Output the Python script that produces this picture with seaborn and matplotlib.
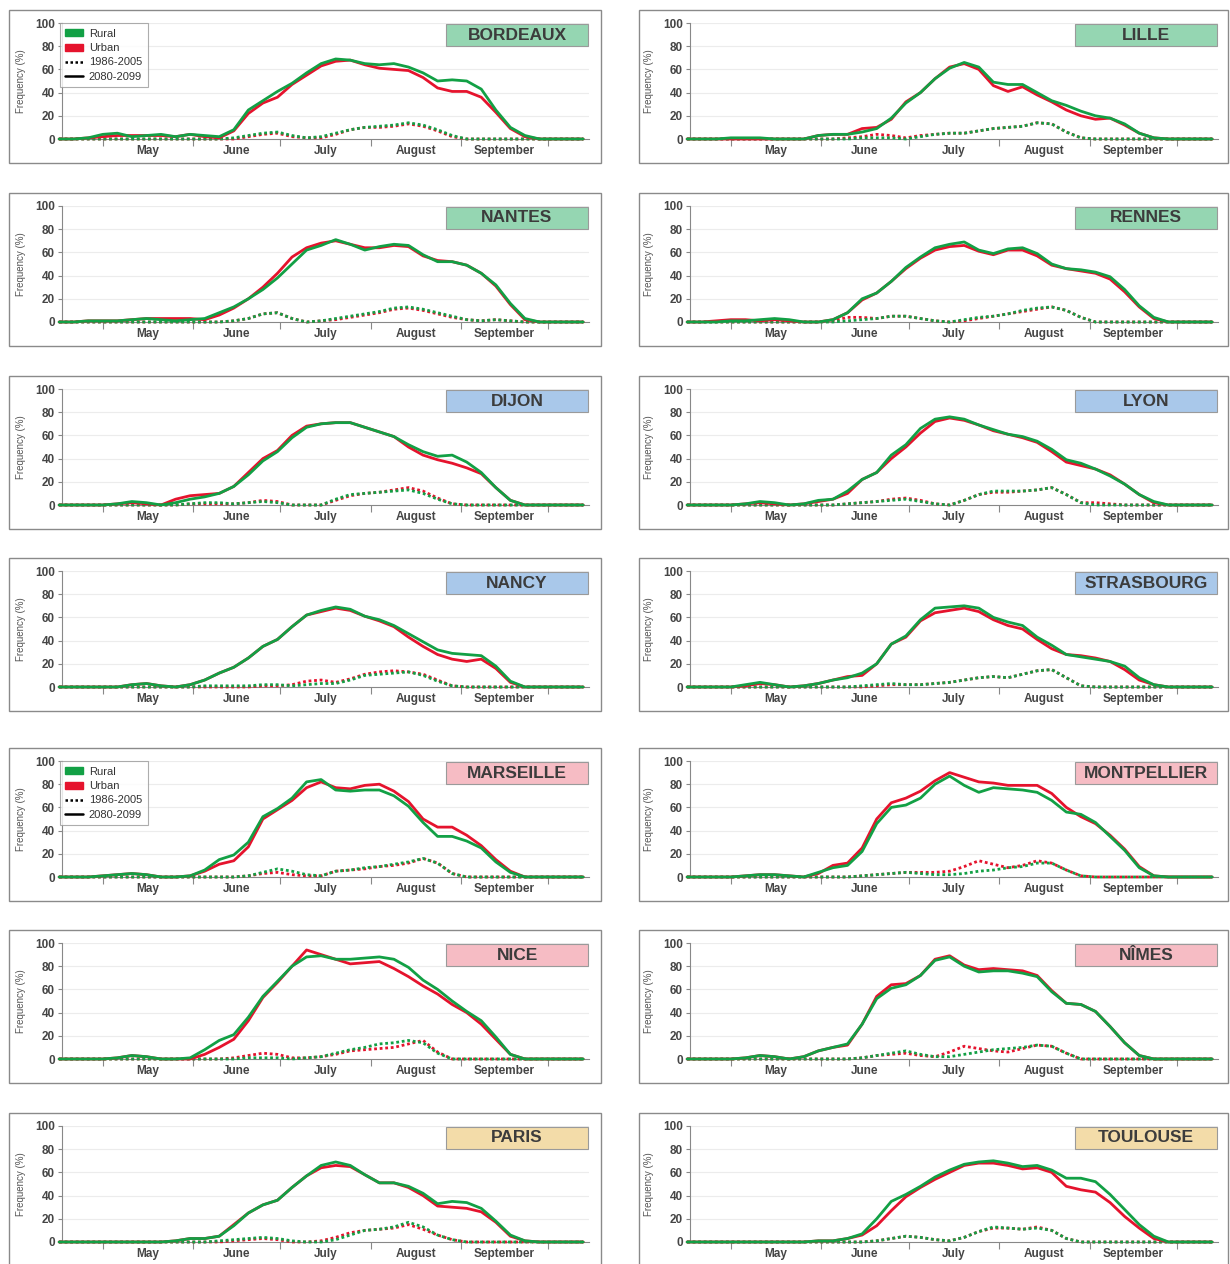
import matplotlib
matplotlib.use("Agg")
import matplotlib.pyplot as plt
import seaborn as sns
from matplotlib.patches import Rectangle, Patch
from matplotlib.lines import Line2D

# ---------------- data (day of year sampled every 5 days) ----------------
DAYS = list(range(106, 287, 5))
MONTH_STARTS = [121, 152, 182, 213, 244, 274]
MONTH_LABELS = ["May", "June", "July", "August", "September"]
YTICKS = [0, 20, 40, 60, 80, 100]
AREAS = ["Rural", "Urban"]
PERIODS = ["1986-2005", "2080-2099"]

BORDEAUX_RURAL_FUT = [0,0,1,4,5,2,3,4,2,4, 3,2,8,25,33,41,48,57,65,69, 68,65,64,65,62,57,50,51,50,43, 25,10,3,0,0,0,0]
BORDEAUX_URBAN_FUT = [0,0,1,2,3,3,3,3,2,4, 2,1,7,22,31,36,47,55,63,67, 68,64,61,60,59,53,44,41,41,36, 23,9,2,0,0,0,0]
BORDEAUX_RURAL_PAST = [0,0,0,0,0,0,0,0,0,0, 0,0,1,3,5,6,3,1,2,5, 8,10,11,12,14,12,8,3,0,0, 0,0,0,0,0,0,0]
BORDEAUX_URBAN_PAST = [0,0,0,0,0,0,0,0,0,0, 0,0,0,2,4,5,2,1,1,4, 8,10,10,11,13,11,7,2,0,0, 0,0,0,0,0,0,0]

LILLE_RURAL_FUT = [0,0,0,1,1,1,0,0,0,3, 4,4,6,9,18,31,40,52,61,66, 62,49,47,47,40,33,29,24,20,18, 13,5,1,0,0,0,0]
LILLE_URBAN_FUT = [0,0,0,0,0,0,0,0,0,3, 4,4,9,10,17,32,40,52,62,65, 60,46,41,45,38,32,25,20,17,18, 12,5,1,0,0,0,0]
LILLE_RURAL_PAST = [0,0,0,0,0,0,0,0,0,0, 0,0,1,1,1,0,2,4,5,5, 7,9,10,11,14,13,6,1,0,0, 0,0,0,0,0,0,0]
LILLE_URBAN_PAST = [0,0,0,0,0,0,0,0,0,0, 0,1,2,4,3,1,3,4,5,5, 7,9,10,11,14,13,6,1,0,0, 0,0,0,0,0,0,0]

NANTES_RURAL_FUT = [0,0,1,1,1,2,3,2,1,2, 3,8,13,20,28,38,50,62,66,71, 67,62,65,67,66,58,52,52,49,42, 32,16,3,0,0,0,0]
NANTES_URBAN_FUT = [0,0,1,1,1,2,3,3,3,3, 2,6,12,20,30,42,56,64,68,70, 67,64,64,66,65,57,53,52,49,42, 31,15,2,0,0,0,0]
NANTES_RURAL_PAST = [0,0,0,0,0,0,0,0,0,0, 0,0,1,3,7,8,3,0,1,3, 5,7,9,12,13,11,8,5,2,1, 2,1,0,0,0,0,0]
NANTES_URBAN_PAST = [0,0,0,0,0,0,0,0,0,0, 0,0,1,3,7,8,3,0,1,2, 4,6,8,11,12,10,7,4,2,1, 2,1,0,0,0,0,0]

RENNES_RURAL_FUT = [0,0,0,1,1,2,3,2,0,0, 2,8,20,25,35,47,56,64,67,69, 62,59,63,64,59,50,46,45,43,39, 28,14,4,0,0,0,0]
RENNES_URBAN_FUT = [0,0,1,2,2,1,2,1,0,0, 2,8,19,25,35,46,55,62,65,66, 61,58,62,62,57,49,46,44,42,37, 26,13,3,0,0,0,0]
RENNES_RURAL_PAST = [0,0,0,0,0,0,0,0,0,0, 0,1,2,3,5,5,3,1,0,2, 4,5,7,10,12,13,10,4,0,0, 0,0,0,0,0,0,0]
RENNES_URBAN_PAST = [0,0,0,0,0,0,0,0,0,0, 1,4,4,3,5,5,3,1,0,1, 3,5,7,9,11,13,10,4,0,0, 0,0,0,0,0,0,0]

DIJON_RURAL_FUT = [0,0,0,0,1,3,2,0,2,5, 7,10,16,26,38,46,58,67,70,71, 71,67,63,59,52,46,42,43,37,28, 15,4,0,0,0,0,0]
DIJON_URBAN_FUT = [0,0,0,0,1,2,1,0,5,8, 9,10,16,28,40,47,60,68,70,71, 71,67,63,59,50,43,39,36,32,27, 15,4,0,0,0,0,0]
DIJON_RURAL_PAST = [0,0,0,0,0,0,0,0,0,1, 2,2,1,2,3,2,0,0,0,5, 9,10,11,12,13,10,5,1,0,0, 0,0,0,0,0,0,0]
DIJON_URBAN_PAST = [0,0,0,0,0,0,0,0,0,1, 1,1,1,2,4,3,0,0,0,4, 8,10,11,13,15,12,6,1,0,0, 0,0,0,0,0,0,0]

LYON_RURAL_FUT = [0,0,0,0,1,3,2,0,1,4, 5,12,22,28,43,52,66,74,76,74, 69,65,61,59,55,48,39,36,31,25, 18,9,3,0,0,0,0]
LYON_URBAN_FUT = [0,0,0,0,1,2,1,0,1,3, 5,10,22,28,40,50,62,72,75,73, 69,64,61,58,54,46,37,34,31,26, 18,9,2,0,0,0,0]
LYON_RURAL_PAST = [0,0,0,0,0,0,0,0,0,0, 0,1,2,3,4,5,3,1,0,4, 9,12,12,12,13,15,9,2,0,0, 0,0,0,0,0,0,0]
LYON_URBAN_PAST = [0,0,0,0,0,0,0,0,0,0, 0,1,2,3,5,6,4,1,0,4, 9,11,11,12,13,15,9,2,2,1, 0,0,0,0,0,0,0]

NANCY_RURAL_FUT = [0,0,0,0,0,2,3,1,0,2, 6,12,17,25,35,41,52,62,66,69, 67,61,58,53,46,39,32,29,28,27, 18,5,0,0,0,0,0]
NANCY_URBAN_FUT = [0,0,0,0,0,2,3,1,0,2, 6,12,17,25,35,41,52,62,65,68, 66,61,57,52,43,35,28,24,22,24, 16,4,0,0,0,0,0]
NANCY_RURAL_PAST = [0,0,0,0,0,0,0,0,0,0, 1,1,1,1,2,2,1,2,3,3, 6,10,11,12,13,10,5,1,0,0, 0,0,0,0,0,0,0]
NANCY_URBAN_PAST = [0,0,0,0,0,0,0,0,0,0, 0,0,0,0,1,1,2,5,6,4, 7,11,13,14,13,11,6,1,0,0, 0,0,0,0,0,0,0]

STRASBOURG_RURAL_FUT = [0,0,0,0,2,4,2,0,1,3, 6,8,12,20,37,44,58,68,69,70, 68,60,56,53,43,36,28,26,24,22, 18,8,2,0,0,0,0]
STRASBOURG_URBAN_FUT = [0,0,0,0,1,3,2,0,1,3, 6,9,10,20,37,43,57,64,66,68, 65,58,53,50,41,33,28,27,25,22, 15,6,2,0,0,0,0]
STRASBOURG_RURAL_PAST = [0,0,0,0,0,0,0,0,0,0, 0,0,1,2,3,2,2,3,4,6, 8,9,8,11,14,15,8,1,0,0, 0,0,0,0,0,0,0]
STRASBOURG_URBAN_PAST = [0,0,0,0,0,0,0,0,0,0, 0,0,0,1,2,2,2,3,4,6, 8,9,8,11,14,15,8,1,0,0, 0,0,0,0,0,0,0]

MARSEILLE_RURAL_FUT = [0,0,0,1,2,3,2,0,0,1, 6,15,19,30,52,59,68,82,84,75, 74,75,75,70,61,47,35,35,31,25, 13,4,0,0,0,0,0]
MARSEILLE_URBAN_FUT = [0,0,0,1,2,3,2,0,0,1, 5,11,14,26,50,58,66,77,82,77, 76,79,80,74,65,50,43,43,36,27, 15,5,0,0,0,0,0]
MARSEILLE_RURAL_PAST = [0,0,0,0,0,0,0,0,0,0, 0,0,0,1,4,7,5,2,1,5, 6,8,9,11,13,16,12,3,0,0, 0,0,0,0,0,0,0]
MARSEILLE_URBAN_PAST = [0,0,0,0,0,0,0,0,0,0, 0,0,0,1,3,4,2,1,1,5, 6,7,9,10,12,16,12,3,0,0, 0,0,0,0,0,0,0]

MONTPELLIER_RURAL_FUT = [0,0,0,0,1,2,2,1,0,4, 8,10,22,46,60,62,68,80,87,79, 73,77,76,75,73,66,56,54,47,35, 23,8,1,0,0,0,0]
MONTPELLIER_URBAN_FUT = [0,0,0,0,1,2,2,1,0,3, 10,12,25,50,64,68,74,83,90,86, 82,81,79,79,79,72,60,52,46,36, 24,9,1,0,0,0,0]
MONTPELLIER_RURAL_PAST = [0,0,0,0,0,0,0,0,0,0, 0,0,1,2,3,4,3,2,2,3, 5,6,8,9,12,12,6,1,0,0, 0,0,0,0,0,0,0]
MONTPELLIER_URBAN_PAST = [0,0,0,0,0,0,0,0,0,0, 0,0,1,2,3,4,4,4,5,9, 14,11,8,10,14,12,6,1,0,0, 0,0,0,0,0,0,0]

NICE_RURAL_FUT = [0,0,0,0,1,3,2,0,0,1, 8,16,21,36,54,67,80,88,89,86, 86,87,88,86,79,68,60,50,41,33, 19,4,0,0,0,0,0]
NICE_URBAN_FUT = [0,0,0,0,1,3,2,0,0,0, 4,10,17,33,53,66,80,94,90,86, 82,83,84,78,71,63,56,47,40,30, 17,4,0,0,0,0,0]
NICE_RURAL_PAST = [0,0,0,0,0,0,0,0,0,0, 0,0,0,1,1,1,0,1,2,5, 8,10,13,14,16,14,5,0,0,0, 0,0,0,0,0,0,0]
NICE_URBAN_PAST = [0,0,0,0,0,0,0,0,0,0, 0,0,1,3,5,4,1,1,2,4, 7,8,9,10,13,16,6,0,0,0, 0,0,0,0,0,0,0]

NIMES_RURAL_FUT = [0,0,0,0,1,3,2,0,2,7, 10,13,30,52,61,64,72,85,88,80, 75,76,76,74,71,58,48,47,41,28, 14,3,0,0,0,0,0]
NIMES_URBAN_FUT = [0,0,0,0,1,3,2,0,2,7, 10,12,30,54,64,65,72,86,89,81, 77,78,77,76,72,59,48,47,41,28, 14,3,0,0,0,0,0]
NIMES_RURAL_PAST = [0,0,0,0,0,0,0,0,0,0, 0,0,1,3,5,7,4,2,2,4, 6,8,9,10,12,11,5,0,0,0, 0,0,0,0,0,0,0]
NIMES_URBAN_PAST = [0,0,0,0,0,0,0,0,0,0, 0,0,1,3,4,5,3,2,6,11, 9,7,6,9,12,11,5,0,0,0, 0,0,0,0,0,0,0]

PARIS_RURAL_FUT = [0,0,0,0,0,0,0,0,1,3, 3,5,14,25,32,36,47,57,66,69, 66,58,51,51,48,42,33,35,34,29, 18,6,1,0,0,0,0]
PARIS_URBAN_FUT = [0,0,0,0,0,0,0,0,1,3, 3,5,15,25,32,36,47,57,64,66, 65,58,51,51,47,40,31,30,29,26, 17,5,1,0,0,0,0]
PARIS_RURAL_PAST = [0,0,0,0,0,0,0,0,0,0, 0,1,2,3,4,3,1,0,0,2, 6,10,11,13,17,13,6,2,0,0, 0,0,0,0,0,0,0]
PARIS_URBAN_PAST = [0,0,0,0,0,0,0,0,0,0, 0,0,1,2,3,2,0,0,1,4, 8,10,11,12,15,11,6,2,0,0, 0,0,0,0,0,0,0]

TOULOUSE_RURAL_FUT = [0,0,0,0,0,0,0,0,0,1, 1,3,7,20,35,41,48,56,62,67, 69,70,68,65,66,62,55,55,52,41, 28,15,5,0,0,0,0]
TOULOUSE_URBAN_FUT = [0,0,0,0,0,0,0,0,0,1, 1,3,6,14,27,39,47,54,60,66, 68,68,66,63,64,60,48,45,43,34, 22,12,3,0,0,0,0]
TOULOUSE_RURAL_PAST = [0,0,0,0,0,0,0,0,0,0, 0,0,0,1,3,5,4,2,1,4, 9,13,12,11,12,10,3,0,0,0, 0,0,0,0,0,0,0]
TOULOUSE_URBAN_PAST = [0,0,0,0,0,0,0,0,0,0, 0,0,0,1,3,5,4,2,1,4, 9,12,12,11,13,10,3,0,0,0, 0,0,0,0,0,0,0]

CITY_NAMES = ["BORDEAUX", "LILLE", "NANTES", "RENNES", "DIJON", "LYON", "NANCY",
              "STRASBOURG", "MARSEILLE", "MONTPELLIER", "NICE", "NÎMES", "PARIS", "TOULOUSE"]
CITY_SERIES = [
    (BORDEAUX_RURAL_FUT, BORDEAUX_URBAN_FUT, BORDEAUX_RURAL_PAST, BORDEAUX_URBAN_PAST),
    (LILLE_RURAL_FUT, LILLE_URBAN_FUT, LILLE_RURAL_PAST, LILLE_URBAN_PAST),
    (NANTES_RURAL_FUT, NANTES_URBAN_FUT, NANTES_RURAL_PAST, NANTES_URBAN_PAST),
    (RENNES_RURAL_FUT, RENNES_URBAN_FUT, RENNES_RURAL_PAST, RENNES_URBAN_PAST),
    (DIJON_RURAL_FUT, DIJON_URBAN_FUT, DIJON_RURAL_PAST, DIJON_URBAN_PAST),
    (LYON_RURAL_FUT, LYON_URBAN_FUT, LYON_RURAL_PAST, LYON_URBAN_PAST),
    (NANCY_RURAL_FUT, NANCY_URBAN_FUT, NANCY_RURAL_PAST, NANCY_URBAN_PAST),
    (STRASBOURG_RURAL_FUT, STRASBOURG_URBAN_FUT, STRASBOURG_RURAL_PAST, STRASBOURG_URBAN_PAST),
    (MARSEILLE_RURAL_FUT, MARSEILLE_URBAN_FUT, MARSEILLE_RURAL_PAST, MARSEILLE_URBAN_PAST),
    (MONTPELLIER_RURAL_FUT, MONTPELLIER_URBAN_FUT, MONTPELLIER_RURAL_PAST, MONTPELLIER_URBAN_PAST),
    (NICE_RURAL_FUT, NICE_URBAN_FUT, NICE_RURAL_PAST, NICE_URBAN_PAST),
    (NIMES_RURAL_FUT, NIMES_URBAN_FUT, NIMES_RURAL_PAST, NIMES_URBAN_PAST),
    (PARIS_RURAL_FUT, PARIS_URBAN_FUT, PARIS_RURAL_PAST, PARIS_URBAN_PAST),
    (TOULOUSE_RURAL_FUT, TOULOUSE_URBAN_FUT, TOULOUSE_RURAL_PAST, TOULOUSE_URBAN_PAST),
]
CITY_GROUP = ["west", "west", "west", "west", "east", "east", "east", "east",
              "south", "south", "south", "south", "centre", "centre"]
LEGEND_CITIES = ["BORDEAUX", "MARSEILLE"]

# ---------------- styling ----------------
GREEN = "#12a045"
RED = "#e5132d"
BOX_COLORS = {"west": "#95d6b2", "east": "#a9c8ea", "south": "#f6bcc4", "centre": "#f3dca9"}
TXT = "#454545"

sns.set_theme(style="white")
plt.rcParams["font.family"] = ["Liberation Sans", "DejaVu Sans"]

W, H = 1230, 1264
fig = plt.figure(figsize=(W / 100, H / 100), dpi=100)

BOX_X = [(9, 601), (639, 1228)]
AX_X = [(62, 589), (690, 1218)]
ROW_TOPS = [10, 193, 376, 558, 748, 930, 1113]


def fx(px):
    return px / W


def fy(py):
    return 1 - py / H


for i, name in enumerate(CITY_NAMES):
    row, col = divmod(i, 2)
    top = ROW_TOPS[row]
    bx0, bx1 = BOX_X[col]
    fig.add_artist(Rectangle((fx(bx0), fy(top + 153)), fx(bx1 - bx0), (153) / H,
                             transform=fig.transFigure, facecolor="white",
                             edgecolor="#8a8a8a", lw=1.0, zorder=0))
    ax0, ax1 = AX_X[col]
    ax = fig.add_axes([fx(ax0), fy(top + 129), fx(ax1 - ax0), 116 / H])
    ax.set_facecolor("none")

    rural_fut, urban_fut, rural_past, urban_past = CITY_SERIES[i]
    for vals, color in [(urban_past, RED), (rural_past, GREEN)]:
        sns.lineplot(x=DAYS, y=vals, ax=ax, color=color, lw=2.0,
                     linestyle=(0, (1, 1)), clip_on=False, zorder=3)
    for vals, color in [(urban_fut, RED), (rural_fut, GREEN)]:
        sns.lineplot(x=DAYS, y=vals, ax=ax, color=color, lw=2.0,
                     clip_on=False, zorder=4)

    ax.set_xlim(107, 288)
    ax.set_ylim(0, 100)
    ax.set_yticks(YTICKS)
    ax.set_yticklabels([str(v) for v in YTICKS], fontsize=8.5, fontweight="bold", color=TXT)
    for yv in YTICKS[1:]:
        ax.axhline(yv, color="#ececec", lw=0.8, zorder=1)
    ax.set_xticks(MONTH_STARTS)
    ax.set_xticklabels([])
    mids = [(MONTH_STARTS[k] + MONTH_STARTS[k + 1]) / 2 for k in range(len(MONTH_LABELS))]
    ax.set_xticks(mids, minor=True)
    ax.set_xticklabels(MONTH_LABELS, minor=True, fontsize=8.5, fontweight="bold", color=TXT)
    ax.tick_params(axis="x", which="major", direction="out", length=5, width=0.8,
                   color="#888888", bottom=True)
    ax.tick_params(axis="x", which="minor", length=0, pad=4, bottom=True)
    ax.tick_params(axis="y", direction="out", length=3, width=0.8, color="#888888",
                   pad=2, left=True)
    for s in ["top", "right"]:
        ax.spines[s].set_visible(False)
    for s in ["left", "bottom"]:
        ax.spines[s].set_color("#888888")
        ax.spines[s].set_linewidth(0.8)
    ax.set_xlabel("")
    ax.set_ylabel("Frequency (%)", fontsize=7, color="#555555")
    ax.yaxis.set_label_coords(-36 / (ax1 - ax0), 0.5)

    # city label box
    fig.add_artist(Rectangle((fx(ax1 - 143), fy(top + 36)), fx(142), 22 / H,
                             transform=fig.transFigure, facecolor=BOX_COLORS[CITY_GROUP[i]],
                             edgecolor="#9a9a9a", lw=0.8, zorder=5))
    fig.text(fx(ax1 - 72), fy(top + 25), name, ha="center", va="center",
             fontsize=12.5, fontweight="bold", color="#3c3c3c", zorder=6)

    if name in LEGEND_CITIES:
        handles = [Patch(facecolor=GREEN, edgecolor=GREEN, label=AREAS[0]),
                   Patch(facecolor=RED, edgecolor=RED, label=AREAS[1]),
                   Line2D([0], [0], color="black", lw=1.8, linestyle=(0, (1, 1)), label=PERIODS[0]),
                   Line2D([0], [0], color="black", lw=1.8, label=PERIODS[1])]
        leg = ax.legend(handles=handles, loc="upper left", bbox_to_anchor=(-0.004, 1.0),
                        fontsize=8, frameon=True, fancybox=False, borderaxespad=0,
                        handlelength=1.6, handleheight=0.6, handletextpad=0.5,
                        labelspacing=0.4, borderpad=0.5)
        leg.get_frame().set_edgecolor("#999999")
        leg.get_frame().set_linewidth(0.8)
        for t in leg.get_texts():
            t.set_color("#333333")

fig.savefig("out.png", dpi=100)
